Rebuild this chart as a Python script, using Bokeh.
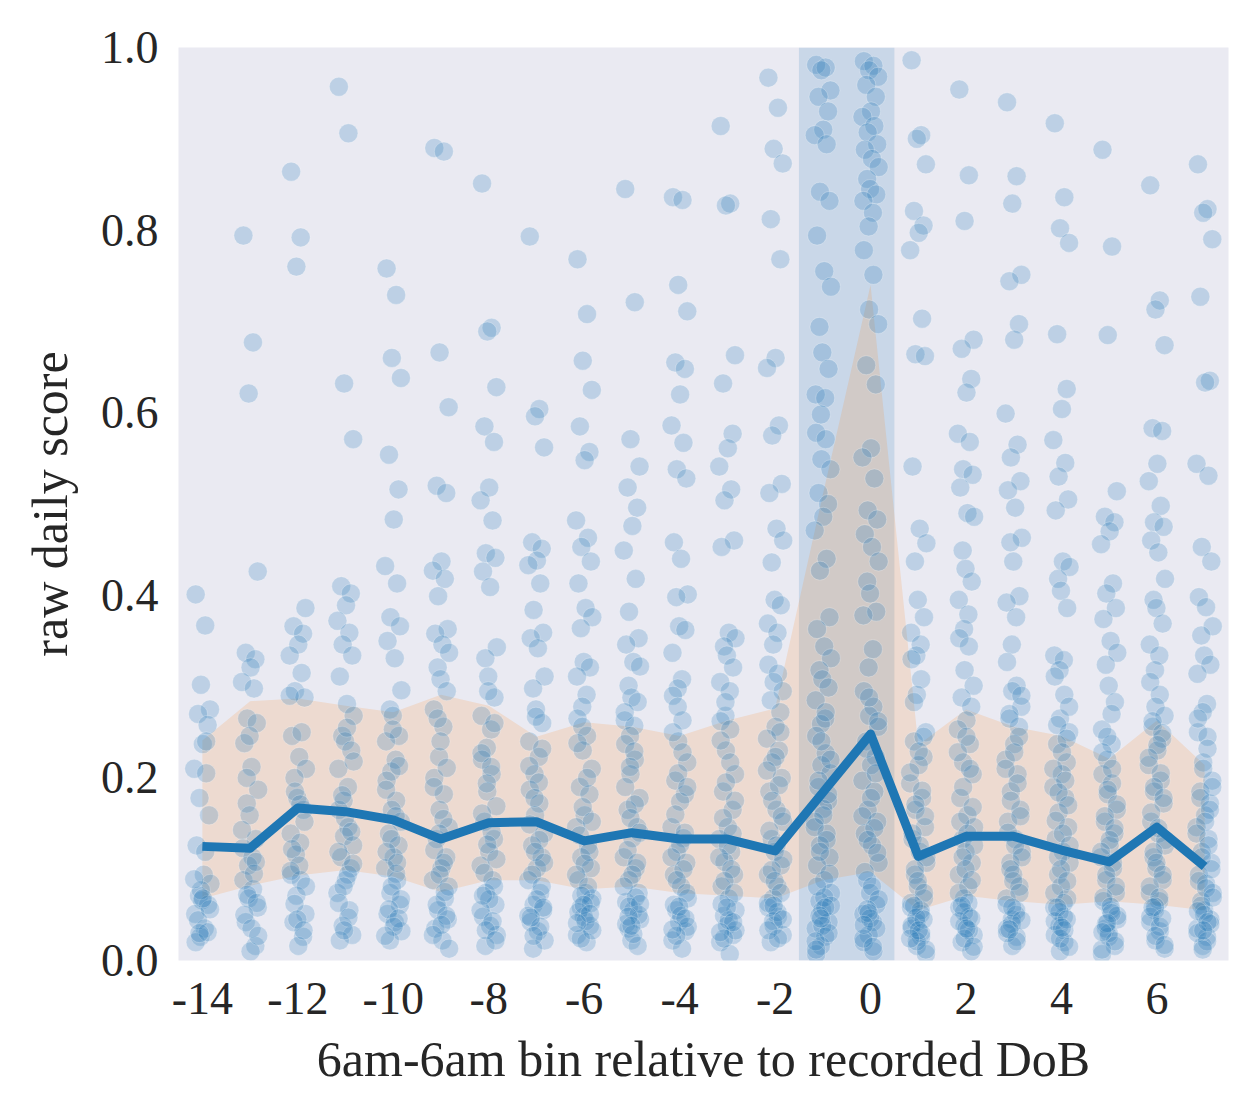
from bokeh.plotting import figure
from bokeh.models import FixedTicker, Range1d, BoxAnnotation, PrintfTickFormatter
from bokeh.embed import file_html
from bokeh.resources import INLINE

# Day bins relative to the recorded date of birth
bins = list(range(-14, 8))
x_tick_values = [-14, -12, -10, -8, -6, -4, -2, 0, 2, 4, 6]
y_tick_values = [0.0, 0.2, 0.4, 0.6, 0.8, 1.0]

# Per-bin summary: mean score and the shaded spread around it
mean_score = [0.125, 0.123, 0.167, 0.163, 0.154, 0.133, 0.151, 0.152, 0.131, 0.140, 0.133,
              0.133, 0.120, 0.184, 0.248, 0.114, 0.136, 0.136, 0.121, 0.108, 0.146, 0.103]
band_low = [0.068, 0.082, 0.093, 0.099, 0.092, 0.075, 0.088, 0.088, 0.078, 0.081, 0.074,
            0.071, 0.068, 0.088, 0.097, 0.055, 0.071, 0.065, 0.061, 0.065, 0.061, 0.055]
band_high = [0.241, 0.284, 0.287, 0.279, 0.272, 0.291, 0.279, 0.245, 0.261, 0.256, 0.246,
             0.263, 0.276, 0.51, 0.74, 0.236, 0.275, 0.256, 0.246, 0.221, 0.263, 0.214]

# Raw daily scores, one list per bin
score_m14 = [0.401, 0.367, 0.302, 0.275, 0.27, 0.258, 0.237, 0.21, 0.205, 0.178, 0.159, 0.126,
             0.094, 0.084, 0.071, 0.066, 0.061, 0.051, 0.035, 0.026, 0.02,
             0.119, 0.077, 0.056, 0.044, 0.031, 0.068, 0.089, 0.24, 0.03]
score_m13 = [0.794, 0.677, 0.621, 0.426, 0.337, 0.33, 0.321, 0.305, 0.298, 0.265, 0.26, 0.238,
             0.212, 0.187, 0.172, 0.159, 0.133, 0.123, 0.113, 0.104, 0.088, 0.078, 0.068, 0.058,
             0.042, 0.016, 0.01,
             0.143, 0.095, 0.072, 0.063, 0.05, 0.035, 0.027, 0.2, 0.246, 0.108]
score_m12 = [0.864, 0.792, 0.76, 0.386, 0.366, 0.358, 0.346, 0.334, 0.315, 0.295, 0.288, 0.246,
             0.223, 0.21, 0.2, 0.178, 0.165, 0.139, 0.129, 0.116, 0.094, 0.088, 0.071, 0.051,
             0.042, 0.026, 0.016,
             0.29, 0.25, 0.185, 0.152, 0.122, 0.104, 0.081, 0.062, 0.045, 0.033, 0.098, 0.171]
score_m11 = [0.957, 0.906, 0.632, 0.571, 0.41, 0.402, 0.389, 0.372, 0.359, 0.346, 0.334, 0.311,
             0.281, 0.268, 0.246, 0.24, 0.23, 0.21, 0.19, 0.175, 0.165, 0.146, 0.136, 0.126,
             0.113, 0.101, 0.088, 0.074, 0.055, 0.038, 0.028, 0.022,
             0.255, 0.218, 0.181, 0.156, 0.141, 0.119, 0.094, 0.081, 0.063, 0.047, 0.033, 0.106]
score_m10 = [0.758, 0.729, 0.66, 0.638, 0.554, 0.516, 0.483, 0.432, 0.413, 0.376, 0.366, 0.35,
             0.331, 0.296, 0.275, 0.268, 0.246, 0.24, 0.22, 0.207, 0.197, 0.175, 0.165, 0.152,
             0.139, 0.126, 0.113, 0.101, 0.088, 0.074, 0.061, 0.051, 0.042, 0.032, 0.022,
             0.253, 0.213, 0.187, 0.158, 0.133, 0.119, 0.095, 0.081, 0.067, 0.056, 0.046, 0.037,
             0.027, 0.107]
score_m9 = [0.89, 0.886, 0.666, 0.606, 0.52, 0.512, 0.437, 0.427, 0.418, 0.399, 0.363, 0.358,
            0.346, 0.337, 0.321, 0.308, 0.295, 0.275, 0.256, 0.223, 0.2, 0.182, 0.165, 0.146,
            0.133, 0.113, 0.101, 0.088, 0.068, 0.055, 0.045, 0.035, 0.022, 0.013,
            0.265, 0.24, 0.211, 0.19, 0.155, 0.139, 0.121, 0.107, 0.094, 0.081, 0.061, 0.049,
            0.039, 0.028, 0.075]
score_m8 = [0.851, 0.693, 0.689, 0.628, 0.585, 0.568, 0.518, 0.504, 0.482, 0.446, 0.441, 0.426,
            0.409, 0.343, 0.331, 0.311, 0.288, 0.268, 0.253, 0.233, 0.22, 0.204, 0.185, 0.169,
            0.152, 0.133, 0.119, 0.104, 0.088, 0.074, 0.061, 0.048, 0.038, 0.028, 0.016,
            0.295, 0.26, 0.227, 0.212, 0.194, 0.161, 0.141, 0.127, 0.111, 0.096, 0.081, 0.067,
            0.055, 0.043, 0.033, 0.022, 0.071]
score_m7 = [0.793, 0.604, 0.596, 0.562, 0.458, 0.451, 0.438, 0.433, 0.413, 0.384, 0.359, 0.353,
            0.342, 0.311, 0.298, 0.275, 0.26, 0.24, 0.223, 0.204, 0.187, 0.172, 0.159, 0.139,
            0.126, 0.113, 0.101, 0.088, 0.074, 0.061, 0.055, 0.042, 0.032, 0.022, 0.013,
            0.267, 0.232, 0.213, 0.195, 0.178, 0.149, 0.132, 0.119, 0.107, 0.094, 0.081, 0.067,
            0.049, 0.037, 0.027, 0.058, 0.047]
score_m6 = [0.768, 0.708, 0.657, 0.625, 0.585, 0.557, 0.548, 0.482, 0.463, 0.453, 0.437, 0.413,
            0.386, 0.376, 0.364, 0.327, 0.321, 0.311, 0.291, 0.278, 0.265, 0.246, 0.23, 0.21,
            0.19, 0.182, 0.159, 0.146, 0.126, 0.113, 0.101, 0.088, 0.074, 0.068, 0.058, 0.048,
            0.038, 0.028, 0.02,
            0.256, 0.238, 0.2, 0.168, 0.152, 0.137, 0.119, 0.106, 0.094, 0.081, 0.071, 0.063,
            0.053, 0.043, 0.033, 0.024, 0.061, 0.051, 0.041]
score_m5 = [0.845, 0.721, 0.571, 0.541, 0.518, 0.496, 0.476, 0.449, 0.418, 0.382, 0.353, 0.346,
            0.327, 0.322, 0.301, 0.288, 0.283, 0.263, 0.257, 0.246, 0.237, 0.22, 0.204, 0.178,
            0.165, 0.146, 0.134, 0.113, 0.101, 0.088, 0.074, 0.064, 0.055, 0.045, 0.035, 0.022,
            0.016,
            0.272, 0.229, 0.212, 0.19, 0.171, 0.156, 0.14, 0.121, 0.107, 0.094, 0.081, 0.069,
            0.059, 0.05, 0.04, 0.029, 0.062, 0.048, 0.038]
score_m4 = [0.836, 0.833, 0.74, 0.711, 0.655, 0.648, 0.62, 0.586, 0.567, 0.538, 0.528, 0.458,
            0.44, 0.401, 0.398, 0.366, 0.362, 0.337, 0.308, 0.298, 0.29, 0.263, 0.24, 0.217,
            0.197, 0.182, 0.174, 0.146, 0.134, 0.119, 0.107, 0.094, 0.081, 0.068, 0.055, 0.042,
            0.032, 0.022, 0.013,
            0.278, 0.25, 0.228, 0.205, 0.19, 0.16, 0.14, 0.127, 0.113, 0.1, 0.088, 0.074,
            0.061, 0.049, 0.037, 0.027, 0.059, 0.046, 0.034]
score_m3 = [0.914, 0.829, 0.827, 0.663, 0.632, 0.577, 0.561, 0.541, 0.516, 0.504, 0.46, 0.453,
            0.359, 0.353, 0.344, 0.334, 0.321, 0.305, 0.295, 0.268, 0.262, 0.253, 0.23, 0.204,
            0.185, 0.165, 0.146, 0.133, 0.119, 0.108, 0.094, 0.081, 0.068, 0.055, 0.049, 0.038,
            0.028, 0.02, 0.007,
            0.283, 0.241, 0.217, 0.195, 0.175, 0.156, 0.139, 0.126, 0.113, 0.1, 0.087, 0.074,
            0.062, 0.044, 0.033, 0.024, 0.058, 0.042, 0.031]
score_m2 = [0.967, 0.934, 0.889, 0.873, 0.812, 0.768, 0.66, 0.649, 0.586, 0.575, 0.522, 0.512,
            0.473, 0.46, 0.436, 0.395, 0.389, 0.369, 0.359, 0.346, 0.324, 0.314, 0.305, 0.295,
            0.285, 0.272, 0.256, 0.243, 0.23, 0.217, 0.2, 0.185, 0.165, 0.152, 0.133, 0.119,
            0.104, 0.094, 0.081, 0.068, 0.058, 0.048, 0.038, 0.028, 0.02,
            0.25, 0.223, 0.208, 0.192, 0.175, 0.158, 0.142, 0.126, 0.111, 0.099, 0.087, 0.074,
            0.063, 0.053, 0.043, 0.033, 0.024, 0.06, 0.045]
score_m1 = [0.981, 0.978, 0.975, 0.953, 0.946, 0.93, 0.91, 0.904, 0.894, 0.842, 0.832, 0.794,
            0.755, 0.738, 0.694, 0.666, 0.648, 0.62, 0.616, 0.598, 0.578, 0.571, 0.549, 0.538,
            0.512, 0.5, 0.486, 0.471, 0.44, 0.427, 0.376, 0.363, 0.344, 0.331, 0.318, 0.308,
            0.299, 0.285, 0.265, 0.259, 0.246, 0.227, 0.214, 0.205, 0.19, 0.175, 0.166, 0.152,
            0.139, 0.126, 0.113, 0.104, 0.088, 0.074, 0.065, 0.055, 0.042, 0.035, 0.026, 0.016,
            0.007,
            0.272, 0.24, 0.22, 0.197, 0.182, 0.159, 0.146, 0.132, 0.119, 0.095, 0.081, 0.069,
            0.06, 0.049, 0.038, 0.03, 0.021, 0.058, 0.046, 0.012]
score_0 = [0.985, 0.98, 0.975, 0.968, 0.959, 0.946, 0.93, 0.924, 0.914, 0.907, 0.894, 0.888,
           0.878, 0.869, 0.856, 0.845, 0.839, 0.832, 0.819, 0.804, 0.778, 0.751, 0.713, 0.697,
           0.652, 0.631, 0.561, 0.551, 0.528, 0.493, 0.483, 0.467, 0.453, 0.437, 0.415, 0.402,
           0.382, 0.378, 0.341, 0.321, 0.295, 0.278, 0.268, 0.256, 0.24, 0.223, 0.214, 0.197,
           0.185, 0.165, 0.152, 0.139, 0.126, 0.107, 0.088, 0.074, 0.061, 0.051, 0.042, 0.028,
           0.02, 0.01,
           0.288, 0.262, 0.232, 0.205, 0.178, 0.158, 0.145, 0.132, 0.118, 0.097, 0.081, 0.067,
           0.056, 0.046, 0.035, 0.024, 0.015, 0.052, 0.039]
score_p1 = [0.986, 0.904, 0.9, 0.872, 0.821, 0.805, 0.797, 0.778, 0.703, 0.664, 0.662, 0.541,
            0.473, 0.457, 0.437, 0.395, 0.376, 0.359, 0.346, 0.334, 0.33, 0.308, 0.291, 0.25,
            0.24, 0.223, 0.214, 0.194, 0.178, 0.165, 0.146, 0.133, 0.119, 0.107, 0.094, 0.081,
            0.068, 0.058, 0.051, 0.042, 0.035, 0.026, 0.016, 0.007,
            0.283, 0.245, 0.229, 0.206, 0.186, 0.171, 0.158, 0.139, 0.126, 0.113, 0.1, 0.087,
            0.074, 0.063, 0.055, 0.047, 0.038, 0.03, 0.021, 0.012, 0.06, 0.045, 0.033, 0.024]
score_p2 = [0.954, 0.86, 0.81, 0.68, 0.67, 0.637, 0.622, 0.577, 0.568, 0.538, 0.532, 0.518,
            0.49, 0.486, 0.449, 0.429, 0.415, 0.395, 0.379, 0.363, 0.353, 0.344, 0.318, 0.301,
            0.288, 0.278, 0.263, 0.253, 0.237, 0.217, 0.204, 0.178, 0.159, 0.146, 0.133, 0.119,
            0.107, 0.094, 0.081, 0.068, 0.058, 0.048, 0.038, 0.028, 0.02, 0.01,
            0.245, 0.228, 0.21, 0.19, 0.168, 0.152, 0.139, 0.126, 0.113, 0.1, 0.088, 0.074,
            0.063, 0.053, 0.043, 0.033, 0.024, 0.015, 0.06, 0.046, 0.035]
score_p3 = [0.94, 0.859, 0.829, 0.751, 0.744, 0.697, 0.68, 0.599, 0.565, 0.551, 0.525, 0.515,
            0.496, 0.463, 0.458, 0.437, 0.399, 0.392, 0.376, 0.346, 0.327, 0.301, 0.295, 0.278,
            0.27, 0.256, 0.237, 0.22, 0.204, 0.185, 0.165, 0.152, 0.133, 0.119, 0.107, 0.094,
            0.081, 0.068, 0.055, 0.045, 0.035, 0.026, 0.016,
            0.29, 0.265, 0.245, 0.228, 0.21, 0.194, 0.175, 0.158, 0.14, 0.126, 0.113, 0.1,
            0.087, 0.074, 0.061, 0.05, 0.04, 0.03, 0.021, 0.058, 0.044, 0.034]
score_p4 = [0.917, 0.836, 0.802, 0.786, 0.686, 0.626, 0.604, 0.57, 0.545, 0.53, 0.505, 0.493,
            0.437, 0.431, 0.418, 0.405, 0.386, 0.334, 0.329, 0.318, 0.311, 0.291, 0.265, 0.25,
            0.237, 0.217, 0.204, 0.19, 0.178, 0.162, 0.146, 0.133, 0.119, 0.107, 0.094, 0.081,
            0.068, 0.058, 0.048, 0.038, 0.028, 0.02, 0.01,
            0.278, 0.258, 0.243, 0.228, 0.21, 0.197, 0.184, 0.17, 0.153, 0.139, 0.126, 0.113,
            0.1, 0.087, 0.074, 0.063, 0.053, 0.043, 0.033, 0.024, 0.015, 0.058, 0.045, 0.036]
score_p5 = [0.888, 0.782, 0.685, 0.514, 0.486, 0.48, 0.47, 0.456, 0.413, 0.402, 0.386, 0.374,
            0.35, 0.337, 0.324, 0.301, 0.283, 0.253, 0.237, 0.22, 0.204, 0.194, 0.182, 0.165,
            0.152, 0.139, 0.126, 0.113, 0.101, 0.088, 0.074, 0.065, 0.055, 0.045, 0.035, 0.026,
            0.016, 0.007,
            0.27, 0.245, 0.228, 0.21, 0.187, 0.171, 0.158, 0.145, 0.132, 0.119, 0.107, 0.094,
            0.081, 0.069, 0.059, 0.049, 0.04, 0.03, 0.021, 0.012, 0.052, 0.041, 0.031]
score_p6 = [0.849, 0.723, 0.713, 0.674, 0.583, 0.58, 0.544, 0.525, 0.498, 0.48, 0.475, 0.46,
            0.447, 0.418, 0.395, 0.386, 0.369, 0.346, 0.334, 0.318, 0.305, 0.291, 0.278, 0.268,
            0.256, 0.243, 0.23, 0.214, 0.197, 0.185, 0.172, 0.152, 0.139, 0.126, 0.113, 0.101,
            0.088, 0.074, 0.065, 0.055, 0.042, 0.032, 0.022, 0.013,
            0.262, 0.249, 0.236, 0.222, 0.205, 0.19, 0.178, 0.162, 0.145, 0.132, 0.119, 0.107,
            0.094, 0.081, 0.069, 0.059, 0.048, 0.037, 0.027, 0.017, 0.058, 0.046]
score_p7 = [0.872, 0.823, 0.819, 0.79, 0.727, 0.635, 0.633, 0.544, 0.531, 0.453, 0.437, 0.398,
            0.387, 0.366, 0.356, 0.334, 0.324, 0.314, 0.281, 0.272, 0.25, 0.245, 0.217, 0.197,
            0.185, 0.172, 0.159, 0.146, 0.133, 0.119, 0.107, 0.094, 0.084, 0.074, 0.065, 0.055,
            0.045, 0.035, 0.026, 0.016,
            0.265, 0.232, 0.21, 0.19, 0.178, 0.165, 0.152, 0.139, 0.126, 0.113, 0.1, 0.087,
            0.079, 0.069, 0.06, 0.05, 0.04, 0.03, 0.021, 0.012, 0.054, 0.042, 0.033]

bin_scores = [score_m14, score_m13, score_m12, score_m11, score_m10, score_m9, score_m8,
              score_m7, score_m6, score_m5, score_m4, score_m3, score_m2, score_m1, score_0,
              score_p1, score_p2, score_p3, score_p4, score_p5, score_p6, score_p7]

# Horizontal strip offsets, cycled within each bin so the dots do not stack
STRIP_OFFSETS = [-0.14, 0.06, -0.03, 0.16, -0.09, 0.11, 0.01, -0.17, 0.08, -0.06,
                 0.14, -0.12, 0.03, 0.17, -0.07, -0.01, 0.12, -0.15, 0.05, -0.04]

pts_x, pts_y = [], []
for b, vals in zip(bins, bin_scores):
    for i, v in enumerate(vals):
        pts_x.append(b + STRIP_OFFSETS[i % len(STRIP_OFFSETS)])
        pts_y.append(v)

FONT = "Liberation Serif"
TEXT = "#262626"
BLUE = "#1f77b4"

p = figure(width=1249, height=1101, output_backend="svg", toolbar_location=None,
           x_range=Range1d(-14.5, 7.5), y_range=Range1d(0.0, 1.0),
           min_border_left=178, min_border_right=21, min_border_top=47,
           min_border_bottom=141)
p.background_fill_color = "#EAEAF2"
p.border_fill_color = "white"
p.outline_line_color = None
p.grid.visible = False

# Window around the recorded date of birth
p.add_layout(BoxAnnotation(left=-1.5, right=0.5, fill_color=BLUE, fill_alpha=0.16,
                           line_color=None, level="underlay"))

p.varea(x=bins, y1=band_low, y2=band_high, fill_color="#ff7f0e", fill_alpha=0.15)

p.scatter(x=pts_x, y=pts_y, size=19, fill_color=BLUE, fill_alpha=0.22,
          line_color="white", line_alpha=0.25, line_width=1)

p.line(x=bins, y=mean_score, line_color=BLUE, line_width=9, line_join="round",
       line_cap="butt")

p.xaxis.ticker = FixedTicker(ticks=x_tick_values)
p.xaxis.major_label_overrides = {t: "%d" % t for t in x_tick_values}
p.yaxis.ticker = FixedTicker(ticks=y_tick_values)
p.yaxis.formatter = PrintfTickFormatter(format="%.1f")
p.xaxis.axis_label = "6am-6am bin relative to recorded DoB"
p.yaxis.axis_label = "raw daily score"

for ax in (p.xaxis[0], p.yaxis[0]):
    ax.axis_line_color = None
    ax.major_tick_line_color = None
    ax.minor_tick_line_color = None
    ax.major_tick_out = 0
    ax.major_tick_in = 0
    ax.major_label_text_font = FONT
    ax.major_label_text_font_size = "46px"
    ax.major_label_text_color = TEXT
    ax.axis_label_text_font = FONT
    ax.axis_label_text_font_size = "50px"
    ax.axis_label_text_font_style = "normal"
    ax.axis_label_text_color = TEXT

p.xaxis.major_label_standoff = 22
p.xaxis.axis_label_standoff = 14
p.yaxis.major_label_standoff = 20
p.yaxis.axis_label_standoff = 20

open("out.html", "w").write(file_html(p, INLINE))
